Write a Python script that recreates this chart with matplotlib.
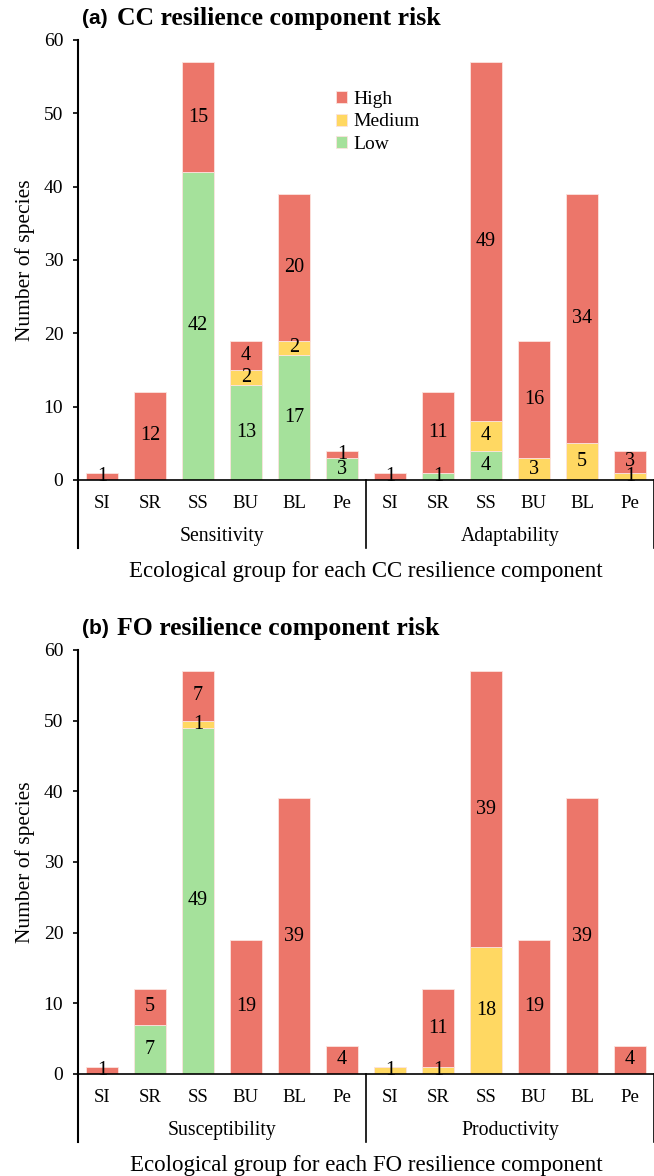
import numpy as np
import matplotlib.pyplot as plt

# categories
groups = ['SI', 'SR', 'SS', 'BU', 'BL', 'Pe']

# panel (a) CC resilience: sensitivity + adaptability
a_comp = ['Sensitivity', 'Adaptability']
a_low = [0, 0, 42, 13, 17, 3, 0, 1, 4, 0, 0, 0]
a_med = [0, 0, 0, 2, 2, 0, 0, 0, 4, 3, 5, 1]
a_high = [1, 12, 15, 4, 20, 1, 1, 11, 49, 16, 34, 3]

# panel (b) FO resilience: susceptibility + productivity
b_comp = ['Susceptibility', 'Productivity']
b_low = [0, 7, 49, 0, 0, 0, 0, 0, 0, 0, 0, 0]
b_med = [0, 0, 1, 0, 0, 0, 1, 1, 18, 0, 0, 0]
b_high = [1, 5, 7, 19, 39, 4, 0, 11, 39, 19, 39, 4]

c_high = '#EC766A'
c_med = '#FFD862'
c_low = '#A5E19B'

plt.rcParams['font.family'] = ['Liberation Serif', 'DejaVu Serif']

fig = plt.figure(figsize=(6.54, 11.76), dpi=100)
W, H = 654, 1176


def panel(rect, low, med, high, comps, letter, title, xlab, legend=False):
    ax = fig.add_axes(rect)
    ax_h = rect[3] * H
    x = np.arange(len(low))
    low = np.array(low); med = np.array(med); high = np.array(high)
    kw = dict(width=0.67, edgecolor='#fbe3df', linewidth=0.6)
    ax.bar(x, low, color=c_low, label='Low', **kw)
    ax.bar(x, med, bottom=low, color=c_med, label='Medium', **kw)
    ax.bar(x, high, bottom=low + med, color=c_high, label='High', **kw)
    # value labels
    for i in x:
        base = 0
        for v in (low[i], med[i], high[i]):
            if v > 0:
                ax.text(i, base + v / 2, str(v), ha='center', va='center',
                        fontsize=14.5)
            base += v
    ax.set_xlim(-0.5, 11.5)
    ax.set_ylim(0, 60)
    ax.set_yticks(range(0, 61, 10))
    ax.tick_params(axis='y', labelsize=14, direction='out', length=3.6,
                   width=1.2, pad=7)
    ax.set_xticks([])
    for s in ['top', 'right']:
        ax.spines[s].set_visible(False)
    ax.spines['left'].set_linewidth(1.5)
    ax.spines['bottom'].set_linewidth(1.2)
    ax.set_ylabel('Number of species', fontsize=15.5)
    ax.yaxis.set_label_coords(-0.075, 0.5)
    tr = ax.get_xaxis_transform()
    px = lambda p: -p / ax_h
    # category labels
    for i in x:
        ax.text(i, px(24), groups[i % 6], transform=tr, ha='center',
                va='center', fontsize=13.5)
    for k, c in enumerate(comps):
        ax.text(2.5 + 6 * k, px(57), c, transform=tr, ha='center',
                va='center', fontsize=14.2)
    for xs in (-0.5, 5.5, 11.5):
        ax.plot([xs, xs], [0, px(68)], transform=tr, color='black',
                lw=1.2 if xs != -0.5 else 1.5, clip_on=False)
    ax.text(5.5, px(91), xlab, transform=tr, ha='center', va='center',
            fontsize=16.5)
    # title: sans letter + serif text
    ax.text(-0.42, 1 + 21 / ax_h, letter, transform=tr, ha='left',
            va='center', fontsize=15, fontweight='bold', family='Liberation Sans')
    ax.text(0.31, 1 + 21 / ax_h, title, transform=tr, ha='left',
            va='center', fontsize=18.5, fontweight='bold')
    if legend:
        h, l = ax.get_legend_handles_labels()
        ax.legend(h[::-1], l[::-1], loc='upper left',
                  bbox_to_anchor=(0.448, 0.885), frameon=False, fontsize=14,
                  handlelength=0.58, handleheight=0.58, handletextpad=0.3,
                  labelspacing=0.3, borderpad=0, borderaxespad=0)
    return ax


panel([78 / W, 1 - 480 / H, 576 / W, 440 / H], a_low, a_med, a_high, a_comp,
      '(a)', 'CC resilience component risk',
      'Ecological group for each CC resilience component', legend=True)
panel([78 / W, 1 - 1074 / H, 576 / W, 424 / H], b_low, b_med, b_high, b_comp,
      '(b)', 'FO resilience component risk',
      'Ecological group for each FO resilience component')

fig.savefig('out.png', dpi=100)
